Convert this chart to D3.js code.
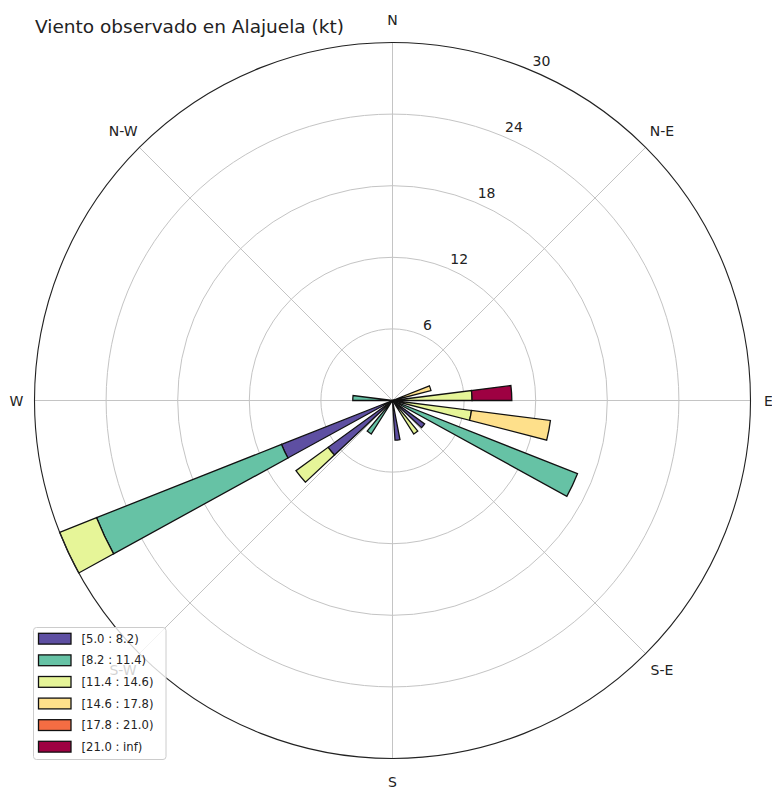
<!DOCTYPE html>
<html>
<head>
<meta charset="utf-8">
<script src="https://cdn.jsdelivr.net/npm/d3@7"></script>
<style>
  html, body { margin: 0; padding: 0; background: #fff; }
  svg { display: block; font-family: "DejaVu Sans", sans-serif; }
</style>
</head>
<body>
<svg id="chart" width="772" height="787"></svg>
<script>
// Wind rose: share of observations (%) per direction sector, stacked by speed class (kt)
const title = "Viento observado en Alajuela (kt)";

// sector centres, degrees clockwise from north (25 sectors of 14.4°)
const directions = [72, 86.4, 100.8, 115.2, 129.6, 144, 172.8, 216, 230.4, 244.8, 273.6];

const speedBins = ["[5.0 : 8.2)", "[8.2 : 11.4)", "[11.4 : 14.6)", "[14.6 : 17.8)", "[17.8 : 21.0)", "[21.0 : inf)"];
const binColors = ["#5e4fa2", "#66c2a5", "#e6f598", "#fee08b", "#f46d43", "#9e0142"];

// frequency (%) of each speed class, one value per direction above
const freq5  = [0,    0,    0,    0,     3.33, 0,    3.33, 0,    6.67, 10,    0];
const freq8  = [0,    0,    0,    16.67, 0,    0,    0,    3.33, 0,    16.67, 3.33];
const freq11 = [0,    6.67, 6.67, 0,     0,    3.33, 0,    0,    3.33, 3.33,  0];
const freq14 = [3.33, 0,    6.67, 0,     0,    0,    0,    0,    0,    0,     0];
const freq17 = [0,    0,    0,    0,     0,    0,    0,    0,    0,    0,     0];
const freq21 = [0,    3.33, 0,    0,     0,    0,    0,    0,    0,    0,     0];
const series = [freq5, freq8, freq11, freq14, freq17, freq21];

const radialTicks = [6, 12, 18, 24, 30];
const compassLabels = ["N", "N-E", "E", "S-E", "S", "S-W", "W", "N-W"];
const compassAngles = [0, 45, 90, 135, 180, 225, 270, 315];

const sectorWidth = 360 / 25 * 0.5;   // bar opening in degrees

const svg = d3.select("#chart");
const cx = 392.5, cy = 400.5, R = 358;
const rad = Math.PI / 180;

const r = d3.scaleLinear().domain([0, 30]).range([0, R]);

const g = svg.append("g").attr("transform", `translate(${cx},${cy})`);

// grid circles
g.selectAll("circle.grid")
  .data(radialTicks.slice(0, -1))
  .join("circle")
  .attr("class", "grid")
  .attr("r", d => r(d))
  .attr("fill", "none")
  .attr("stroke", "#c4c4c4")
  .attr("stroke-width", 1);

// spokes
g.selectAll("line.spoke")
  .data(compassAngles)
  .join("line")
  .attr("class", "spoke")
  .attr("x1", 0).attr("y1", 0)
  .attr("x2", d => R * Math.sin(d * rad))
  .attr("y2", d => -R * Math.cos(d * rad))
  .attr("stroke", "#c4c4c4")
  .attr("stroke-width", 1);

// stacked bars
const arc = d3.arc();
const segments = [];
directions.forEach((dir, j) => {
  let base = 0;
  series.forEach((vals, i) => {
    const v = vals[j];
    if (v > 0) {
      segments.push({ dir, i, base, top: base + v });
    }
    base += v;
  });
});

g.selectAll("path.bar")
  .data(segments)
  .join("path")
  .attr("class", "bar")
  .attr("d", d => arc({
    innerRadius: r(d.base),
    outerRadius: r(d.top),
    startAngle: (d.dir - sectorWidth / 2) * rad,
    endAngle: (d.dir + sectorWidth / 2) * rad
  }))
  .attr("fill", d => binColors[d.i])
  .attr("stroke", "#111")
  .attr("stroke-width", 1.3)
  .attr("stroke-linejoin", "miter");

// outer frame
g.append("circle")
  .attr("r", R)
  .attr("fill", "none")
  .attr("stroke", "#222")
  .attr("stroke-width", 1.1);

// radial tick labels
g.selectAll("text.rlabel")
  .data(radialTicks)
  .join("text")
  .attr("class", "rlabel")
  .attr("x", d => r(d) * Math.sin(22.5 * rad) + 3)
  .attr("y", d => -r(d) * Math.cos(22.5 * rad) - 4)
  .attr("font-size", 14)
  .attr("fill", "#222")
  .text(d => d);

// compass labels (horizontal ones sit a little closer to the frame)
const labelRadius = a => (a === 90 || a === 270) ? 376 : 381;
g.selectAll("text.compass")
  .data(compassLabels)
  .join("text")
  .attr("class", "compass")
  .attr("x", (d, i) => labelRadius(compassAngles[i]) * Math.sin(compassAngles[i] * rad))
  .attr("y", (d, i) => -labelRadius(compassAngles[i]) * Math.cos(compassAngles[i] * rad))
  .attr("text-anchor", "middle")
  .attr("dominant-baseline", "central")
  .attr("font-size", 14)
  .attr("fill", "#222")
  .text(d => d);

// title
svg.append("text")
  .attr("x", 35)
  .attr("y", 32.5)
  .attr("font-size", 18.5)
  .attr("fill", "#222")
  .text(title);

// legend
const lg = svg.append("g").attr("transform", "translate(33.5,627.5)");
lg.append("rect")
  .attr("width", 132.5)
  .attr("height", 132)
  .attr("rx", 3)
  .attr("fill", "#fff")
  .attr("fill-opacity", 0.8)
  .attr("stroke", "#cccccc")
  .attr("stroke-width", 1);

const rows = lg.selectAll("g.item")
  .data(speedBins)
  .join("g")
  .attr("class", "item")
  .attr("transform", (d, i) => `translate(0,${11.2 + i * 21.6})`);

rows.append("rect")
  .attr("x", 5)
  .attr("y", -5.4)
  .attr("width", 32.5)
  .attr("height", 10.8)
  .attr("fill", (d, i) => binColors[i])
  .attr("stroke", "#111")
  .attr("stroke-width", 1.3);

rows.append("text")
  .attr("x", 48)
  .attr("y", 0)
  .attr("dominant-baseline", "central")
  .attr("font-size", 11.6)
  .attr("fill", "#222")
  .text(d => d);
</script>
</body>
</html>
